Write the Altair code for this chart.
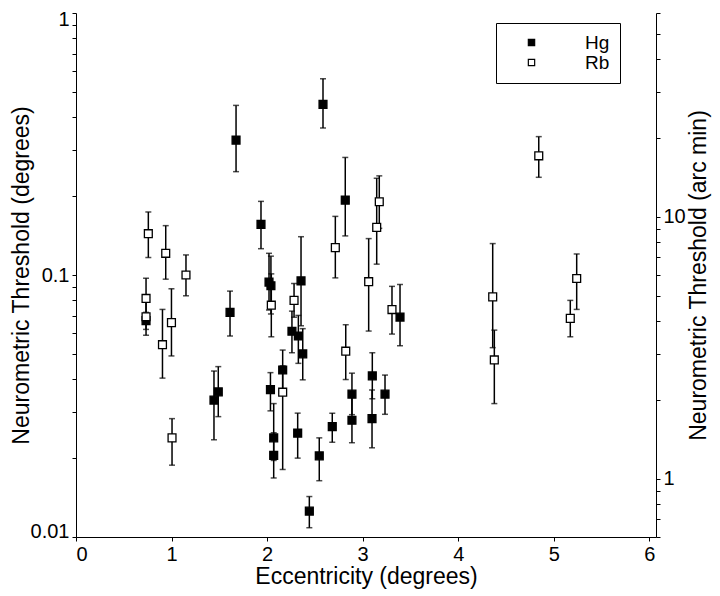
import altair as alt
import pandas as pd

# Hg (filled squares)
hg_x = [1.675, 2.585, 1.936, 2.818, 2.02, 2.04, 2.355, 2.26, 2.327, 2.373, 2.163, 2.035, 2.069, 2.069,
        2.32, 2.442, 2.546, 2.682, 2.888, 2.888, 3.101, 3.098, 3.234, 3.391, 1.612, 1.444, 1.489, 0.733]
hg_y = [0.327, 0.448, 0.156, 0.193, 0.094, 0.091, 0.095, 0.061, 0.0585, 0.050, 0.0434, 0.0365, 0.0239, 0.0205,
        0.0249, 0.01255, 0.0204, 0.0264, 0.0351, 0.0279, 0.0412, 0.0283, 0.0351, 0.0691, 0.072, 0.0333, 0.0358, 0.067]
hg_lo = [0.248, 0.364, 0.126, 0.141, 0.0735, 0.071, 0.064, 0.0505, 0.046, 0.0398, 0.0365, 0.0303, 0.0196, 0.0168,
         0.020, 0.01085, 0.0164, 0.023, 0.0293, 0.0229, 0.0337, 0.0219, 0.0294, 0.0537, 0.0585, 0.0235, 0.0288, 0.062]
hg_hi = [0.444, 0.561, 0.191, 0.281, 0.121, 0.118, 0.140, 0.0728, 0.0701, 0.0624, 0.0517, 0.0424, 0.0323, 0.025,
         0.0297, 0.01427, 0.0239, 0.0297, 0.0422, 0.0341, 0.0505, 0.0364, 0.0415, 0.092, 0.0868, 0.043, 0.0447, 0.072]

# Rb (open squares)
rb_x = [0.757, 0.939, 1.151, 0.733, 0.733, 0.905, 0.999, 1.005, 2.044, 2.282, 2.163, 2.714, 2.823, 3.063,
        3.147, 3.174, 3.307, 4.361, 4.378, 4.843, 5.24, 5.173]
rb_y = [0.1438, 0.121, 0.100, 0.0814, 0.0693, 0.0542, 0.0658, 0.0239, 0.0767, 0.080, 0.0357, 0.1272, 0.0512, 0.0943,
        0.152, 0.1904, 0.0738, 0.0825, 0.0474, 0.285, 0.097, 0.0683]
rb_lo = [0.1166, 0.0964, 0.0833, 0.069, 0.0589, 0.0404, 0.0491, 0.0188, 0.0581, 0.069, 0.0181, 0.0975, 0.0399, 0.0611,
         0.110, 0.1507, 0.0595, 0.0528, 0.0323, 0.236, 0.0739, 0.0581]
rb_hi = [0.174, 0.1543, 0.1193, 0.0972, 0.081, 0.0739, 0.0886, 0.0283, 0.101, 0.0928, 0.045, 0.1674, 0.0646, 0.1377,
         0.234, 0.239, 0.0905, 0.1318, 0.0616, 0.3374, 0.1203, 0.080]

x_ticks = [0, 1, 2, 3, 4, 5, 6]
left_ticks = [0.01, 0.02, 0.03, 0.04, 0.05, 0.06, 0.07, 0.08, 0.09,
              0.1, 0.2, 0.3, 0.4, 0.5, 0.6, 0.7, 0.8, 0.9, 1]
right_ticks = [0.6, 0.7, 0.8, 0.9, 1, 2, 3, 4, 5, 6, 7, 8, 9, 10, 20, 30, 40, 50, 60]

df = pd.concat([
    pd.DataFrame({"x": hg_x, "y": hg_y, "lo": hg_lo, "hi": hg_hi, "series": "Hg"}),
    pd.DataFrame({"x": rb_x, "y": rb_y, "lo": rb_lo, "hi": rb_hi, "series": "Rb"}),
], ignore_index=True)

FONT = "Liberation Sans"
W, H = 580, 524

x_enc = alt.X("x:Q", scale=alt.Scale(domain=[0, 6.07], nice=False, zero=False),
              axis=alt.Axis(values=x_ticks, title="Eccentricity (degrees)", grid=False,
                            tickSize=4, labelPadding=3, labelFontSize=20, titleFontSize=23,
                            titleY=46, titleBaseline="alphabetic",
                            domainColor="black", tickColor="black", labelColor="black",
                            titleColor="black", titleFontWeight="normal", labelFont=FONT, titleFont=FONT))

y_scale = alt.Scale(type="log", domain=[0.01, 1], nice=False)
y_axis = alt.Axis(values=left_ticks, title="Neurometric Threshold (degrees)", grid=False,
                  labelExpr="(datum.value == 0.01 || datum.value == 0.1 || datum.value == 1) ? format(datum.value, '~g') : ''",
                  labelFlush=True, labelFlushOffset=4,
                  tickSize=4, labelPadding=3, labelFontSize=20, titleFontSize=23,
                  titleX=-55, titleY=H / 2, titleBaseline="middle", titleAngle=270,
                  domainColor="black", tickColor="black", labelColor="black",
                  titleColor="black", titleFontWeight="normal", labelFont=FONT, titleFont=FONT)

base = alt.Chart(df)

rules = base.mark_rule(color="black", strokeWidth=1.5).encode(
    x=x_enc, y=alt.Y("lo:Q", scale=y_scale, axis=y_axis), y2="hi:Q")
cap_lo = base.mark_tick(color="black", orient="horizontal", size=6, thickness=1.5).encode(
    x=x_enc, y=alt.Y("lo:Q", scale=y_scale, axis=y_axis))
cap_hi = base.mark_tick(color="black", orient="horizontal", size=6, thickness=1.5).encode(
    x=x_enc, y=alt.Y("hi:Q", scale=y_scale, axis=y_axis))
points = base.mark_point(shape="square", filled=True, stroke="black", strokeWidth=1.3,
                         size=62, opacity=1).encode(
    x=x_enc, y=alt.Y("y:Q", scale=y_scale, axis=y_axis),
    fill=alt.Fill("series:N", scale=alt.Scale(domain=["Hg", "Rb"], range=["black", "white"]),
                  legend=alt.Legend(title=None, orient="none", legendX=420, legendY=10,
                                    padding=10, strokeColor="black", fillColor="white",
                                    labelFontSize=19, labelFont=FONT, labelColor="black",
                                    symbolType="square", symbolSize=40, symbolStrokeColor="black",
                                    symbolStrokeWidth=1.2, symbolOffset=16, labelOffset=44,
                                    rowPadding=0)),
    order=alt.Order("series:N"))

main = alt.layer(rules, cap_lo, cap_hi, points)

right = base.transform_calculate(arc="datum.y * 60").mark_point(opacity=0).encode(
    x=x_enc,
    y=alt.Y("arc:Q", scale=alt.Scale(type="log", domain=[0.6, 60], nice=False),
            axis=alt.Axis(orient="right", values=right_ticks, title="Neurometric Threshold (arc min)",
                          labelExpr="(datum.value == 1 || datum.value == 10) ? format(datum.value, '~g') : ''",
                          grid=False, tickSize=4, labelPadding=3, labelFontSize=20, titleFontSize=23,
                          titleX=42, titleY=H / 2, titleBaseline="middle", titleAngle=270,
                          domainColor="black", tickColor="black", labelColor="black",
                          titleColor="black", titleFontWeight="normal", labelFont=FONT, titleFont=FONT)))

chart = alt.layer(main, right).resolve_scale(y="independent").properties(
    width=W, height=H,
    autosize=alt.AutoSizeParams(type="none"),
    padding={"left": 68, "top": 5, "right": 56, "bottom": 56},
    background="white",
).configure_view(strokeWidth=0)

chart.save("out.html", embed_options={"renderer": "svg", "actions": False})
